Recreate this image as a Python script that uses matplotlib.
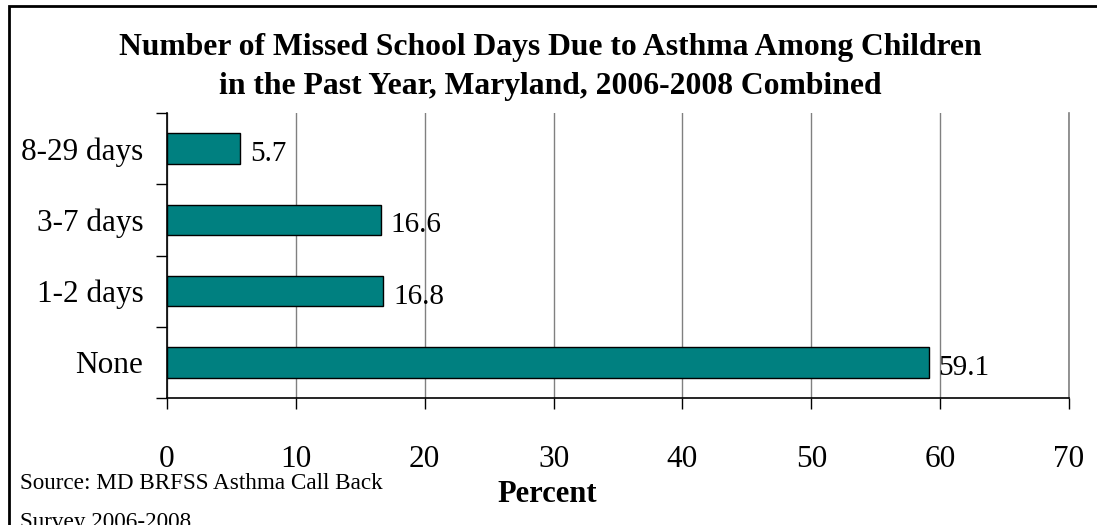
import matplotlib
matplotlib.use("Agg")
import matplotlib.pyplot as plt
from matplotlib.patches import Rectangle

plt.rcParams['font.family'] = ['Liberation Serif', 'DejaVu Serif']

categories = ["None", "1-2 days", "3-7 days", "8-29 days"]
percents = [59.1, 16.8, 16.6, 5.7]
x_ticks = [0, 10, 20, 30, 40, 50, 60, 70]

title = ("Number of Missed School Days Due to Asthma Among Children\n"
         "in the Past Year, Maryland, 2006-2008 Combined")
source = "Source: MD BRFSS Asthma Call Back\nSurvey 2006-2008"

TEAL = "#008080"
GRID = "#808080"

fig = plt.figure(figsize=(10.97, 5.25), dpi=100)
ax = fig.add_axes([167 / 1097, 1 - 398 / 525, (1069 - 167) / 1097, (398 - 113) / 525])

pos = list(range(len(categories)))
ax.barh(pos, percents, height=0.43, color=TEAL, edgecolor="black", linewidth=1, zorder=3)
for p, v in zip(pos, percents):
    ax.annotate(f"{v}", (v, p), xytext=(7, -4), textcoords="offset points",
                va="center", ha="left", fontsize=21, zorder=4)

ax.set_xlim(0, 70)
ax.set_ylim(-0.5, len(categories) - 0.5)
ax.set_xticks(x_ticks)
ax.set_xticklabels([str(t) for t in x_ticks], fontsize=22.5)
ax.set_yticks(pos)
ax.set_yticklabels(categories, fontsize=22.5)
ax.set_yticks([p - 0.5 for p in pos] + [len(categories) - 0.5], minor=True)
ax.tick_params(axis="y", which="major", length=0, pad=17)
ax.tick_params(axis="y", which="minor", length=8, width=1, direction="out")
ax.tick_params(axis="x", which="major", length=8, width=1, direction="out", pad=26)

ax.grid(axis="x", color=GRID, linewidth=1, zorder=0)
ax.spines["top"].set_visible(False)
ax.spines["right"].set_color(GRID)
ax.spines["right"].set_linewidth(1.2)
ax.spines["left"].set_linewidth(1.2)
ax.spines["bottom"].set_linewidth(1.2)

fig.text(0.5015, 1 - 67 / 525, title, ha="center", va="center", fontsize=22.8,
         fontweight="bold", linespacing=1.42)
fig.text(547 / 1097, 1 - 495 / 525, "Percent", ha="center", va="center",
         fontsize=22, fontweight="bold")
fig.text(20 / 1097, 1 - 473 / 525, source, ha="left", va="top", fontsize=16.7,
         linespacing=2.1)

fig.patches.append(Rectangle((8.5 / 1097, -0.1), 1.2, 1 - 5.5 / 525 + 0.1,
                             transform=fig.transFigure, fill=False,
                             edgecolor="black", linewidth=2))

fig.savefig("out.png", dpi=100)
